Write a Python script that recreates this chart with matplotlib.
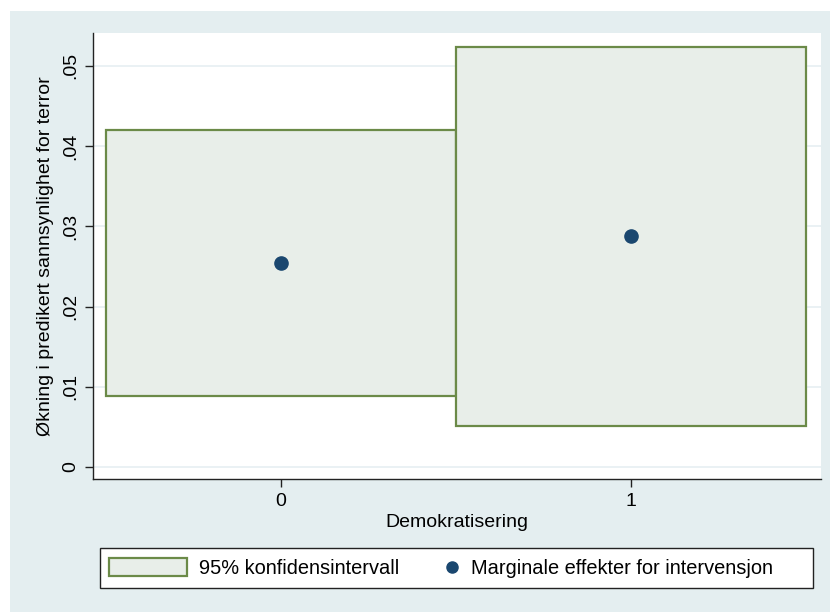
import matplotlib
matplotlib.use('Agg')
import matplotlib.pyplot as plt
from matplotlib.patches import Rectangle, Patch
from matplotlib.lines import Line2D

# data
demokratisering = [0, 1]
effekt = [0.0254, 0.0288]
ci_lo = [0.0089, 0.0051]
ci_hi = [0.0420, 0.0524]
yticks = [0, 0.01, 0.02, 0.03, 0.04, 0.05]
ytick_labels = ['0', '.01', '.02', '.03', '.04', '.05']

bg = '#E4EEF0'
box_fill = '#E8EEE9'
box_edge = '#6B8A48'
navy = '#1A476F'
fs = 14
fs_leg = 14.4

plt.rcParams['font.family'] = ['Liberation Sans', 'DejaVu Sans']

fig = plt.figure(figsize=(8.3, 6.12), dpi=100, facecolor='white')
# stata-like outer background
fig.patches.append(Rectangle((10/830, 0), 820/830, 601/612, transform=fig.transFigure,
                             facecolor=bg, edgecolor='none', zorder=-10))

ax = fig.add_axes([93/830, 1-479/612, 728/830, 446/612])
ax.set_facecolor('white')

# confidence boxes
ax.bar(demokratisering, [h-l for h, l in zip(ci_hi, ci_lo)], bottom=ci_lo, width=1.0,
       facecolor=box_fill, edgecolor=box_edge, linewidth=1.6, zorder=2)
ax.plot(demokratisering, effekt, 'o', color=navy, markersize=9.5, zorder=3)

ax.set_xlim(-0.537, 1.543)
ax.set_ylim(-0.0015, 0.0541)
ax.set_xticks(demokratisering)
ax.set_xticklabels([str(d) for d in demokratisering], fontsize=fs)
ax.set_yticks(yticks)
ax.set_yticklabels(ytick_labels, fontsize=fs, rotation=90, va='center')
ax.grid(axis='y', color='#E6EFF2', linewidth=1.2, zorder=0)
ax.set_axisbelow(True)

for s in ['top', 'right']:
    ax.spines[s].set_visible(False)
for s in ['left', 'bottom']:
    ax.spines[s].set_color('#222222')
    ax.spines[s].set_linewidth(1.0)
ax.tick_params(length=6, width=1.0, color='#222222', pad=4)

ax.set_xlabel('Demokratisering', fontsize=fs, labelpad=3)
ax.set_ylabel('Økning i predikert sannsynlighet for terror', fontsize=fs, labelpad=6)

# legend: white frame with two entries
fig.patches.append(Rectangle((100/830, 1-588/612), 713/830, 40/612, transform=fig.transFigure,
                             facecolor='white', edgecolor='#222222', linewidth=1.0, zorder=1))
leg1 = fig.legend([Patch(facecolor=box_fill, edgecolor=box_edge, linewidth=1.6)],
                  ['95% konfidensintervall'], loc='center left',
                  bbox_to_anchor=(109/830, 1-568/612), fontsize=fs_leg, frameon=False,
                  borderpad=0, borderaxespad=0, handlelength=3.9, handleheight=1.0,
                  handletextpad=0.6)
leg2 = fig.legend([Line2D([], [], marker='o', linestyle='none', color=navy, markersize=8)],
                  ['Marginale effekter for intervensjon'], loc='center left',
                  bbox_to_anchor=(442/830, 1-568/612), fontsize=fs_leg, frameon=False,
                  borderpad=0, borderaxespad=0, handlelength=1.0, handletextpad=0.45)
leg1.set_zorder(3)
leg2.set_zorder(3)

fig.savefig('out.png', dpi=100, facecolor='white')
